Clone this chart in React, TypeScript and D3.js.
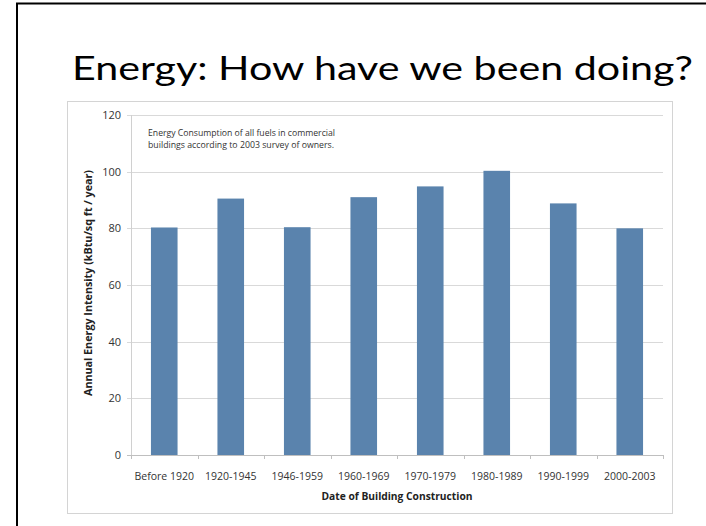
import React from "react";
import * as d3 from "d3";

const categories = [
  "Before 1920",
  "1920-1945",
  "1946-1959",
  "1960-1969",
  "1970-1979",
  "1980-1989",
  "1990-1999",
  "2000-2003",
];
const values = [80.3, 90.5, 80.4, 91.0, 94.8, 100.3, 88.8, 80.0];
const yTicks = [0, 20, 40, 60, 80, 100, 120];
const titleText = "Energy: How have we been doing?";
const noteLines = [
  "Energy Consumption of all fuels in commercial",
  "buildings according to 2003 survey of owners.",
];
const xTitle = "Date of Building Construction";
const yTitle = "Annual Energy Intensity (kBtu/sq ft / year)";

export default function App() {
  const W = 706;
  const H = 526;
  const plot = { left: 131, right: 663, top: 115, bottom: 455 };
  const x = d3
    .scaleBand<string>()
    .domain(categories)
    .range([plot.left, plot.right])
    .paddingInner(0.6)
    .paddingOuter(0.3);
  const y = d3.scaleLinear().domain([0, 120]).range([plot.bottom, plot.top]);
  const step = x.step();
  const boundaries = d3.range(categories.length + 1).map((i) => plot.left + i * step);
  const font = "'Open Sans', 'DejaVu Sans', sans-serif";
  const labelColor = "#333";

  return (
    <svg
      width={W}
      height={H}
      style={{ position: "absolute", left: 0, top: 0, background: "#fff" }}
    >
      {/* slide border */}
      <rect x={17} y={3.5} width={W + 20} height={H + 20} fill="#fff" stroke="#000" strokeWidth={2} />
      <text
        x={72}
        y={80}
        fontFamily="Lato, 'Open Sans', sans-serif"
        fontSize={33}
        fill="#000"
        textLength={621}
        lengthAdjust="spacingAndGlyphs"
      >
        {titleText}
      </text>
      {/* chart frame */}
      <rect x={67.5} y={101.5} width={605} height={412} fill="#fff" stroke="#d4d4d4" strokeWidth={1} />
      {/* gridlines */}
      {yTicks.map((t) => (
        <g key={t}>
          <line
            x1={plot.left - 4}
            x2={plot.right}
            y1={Math.round(y(t)) + 0.5}
            y2={Math.round(y(t)) + 0.5}
            stroke={t === 0 ? "#bfbfbf" : "#d9d9d9"}
            strokeWidth={1}
          />
          <text
            x={121}
            y={y(t) + 4}
            textAnchor="end"
            fontFamily={font}
            fontSize={11}
            fill={labelColor}
          >
            {t}
          </text>
        </g>
      ))}
      {/* y axis line */}
      <line x1={plot.left + 0.5} x2={plot.left + 0.5} y1={plot.top} y2={plot.bottom} stroke="#d0d0d0" />
      {/* x ticks */}
      {boundaries.map((b, i) => (
        <line
          key={i}
          x1={Math.round(b) + 0.5}
          x2={Math.round(b) + 0.5}
          y1={plot.bottom}
          y2={plot.bottom + 4}
          stroke="#bfbfbf"
        />
      ))}
      {/* bars */}
      {categories.map((c, i) => (
        <rect
          key={c}
          x={x(c)}
          y={y(values[i])}
          width={x.bandwidth()}
          height={y(0) - y(values[i])}
          fill="#5a83ad"
        />
      ))}
      {/* x labels */}
      {categories.map((c) => (
        <text
          key={c}
          x={(x(c) as number) + x.bandwidth() / 2}
          y={480}
          textAnchor="middle"
          fontFamily={font}
          fontSize={10.5}
          fill={labelColor}
        >
          {c}
        </text>
      ))}
      <text
        x={(plot.left + plot.right) / 2}
        y={500}
        textAnchor="middle"
        fontFamily={font}
        fontSize={10.5}
        fontWeight="bold"
        fill="#222"
        textLength={151}
        lengthAdjust="spacingAndGlyphs"
      >
        {xTitle}
      </text>
      <text
        transform={`translate(92, ${(plot.top + plot.bottom) / 2 - 2}) rotate(-90)`}
        textAnchor="middle"
        fontFamily={font}
        fontSize={10.5}
        fontWeight="bold"
        fill="#222"
        textLength={226}
        lengthAdjust="spacingAndGlyphs"
      >
        {yTitle}
      </text>
      {noteLines.map((l, i) => (
        <text
          key={i}
          x={148}
          y={135.5 + i * 12}
          fontFamily={font}
          fontSize={8.5}
          fill="#333"
          textLength={i === 0 ? 187 : 186}
          lengthAdjust="spacingAndGlyphs"
        >
          {l}
        </text>
      ))}
    </svg>
  );
}
